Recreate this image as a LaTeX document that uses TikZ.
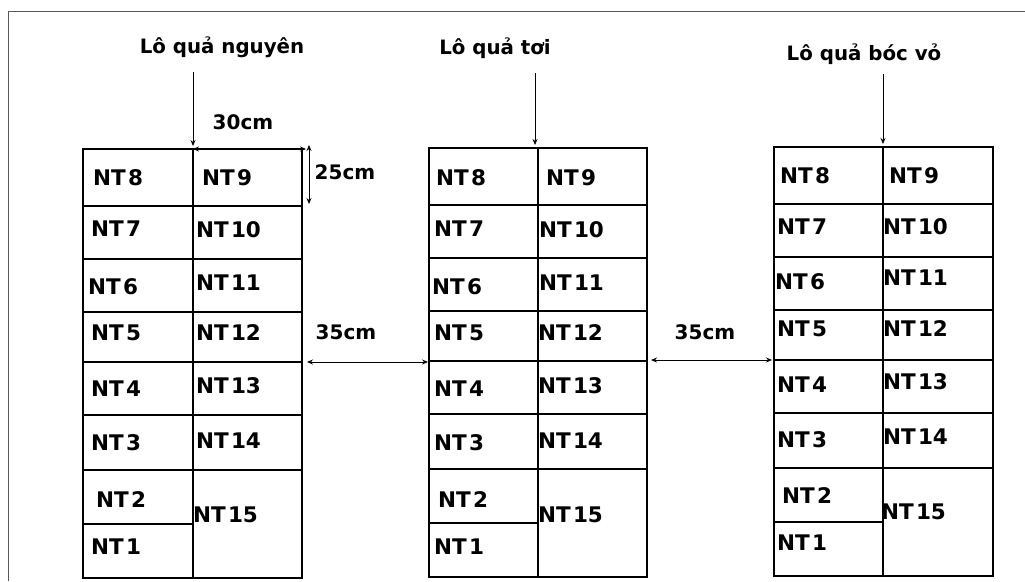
\documentclass[tikz,border=0pt]{standalone}
\usepackage{fontspec}
\setmainfont{DejaVu Sans}
\usetikzlibrary{arrows.meta}
\newcommand\ntlab[1]{NT\kern0.1em#1}
\begin{document}
\begin{tikzpicture}[x=1pt,y=-1pt,
  gridline/.style={line width=1.5pt, line cap=rect},
  lbl/.style={font=\bfseries\fontsize{21.5}{23}\selectfont, anchor=west, inner sep=0pt},
  ttl/.style={font=\bfseries\fontsize{19.8}{21}\selectfont, anchor=base, inner sep=0pt},
  dimlbl/.style={font=\bfseries\fontsize{20}{22}\selectfont, inner sep=0pt},
  arr/.style={line width=0.8pt, -{Stealth[length=6pt,width=5pt]}},
  darr/.style={line width=0.8pt, {Stealth[length=6pt,width=5pt]}-{Stealth[length=6pt,width=5pt]}}]
\useasboundingbox (0,0) rectangle (1025,581);
\draw[gray!70!black, line width=1pt] (8,581) -- (8,11) -- (1025,11);

% grids
\foreach \L/\M/\R/\d in {83/193/302/0, 429/538/647/-1, 774/883/993/-2}{
  \draw[gridline] ({\L},{149+\d}) rectangle ({\R},{578+\d});
  \draw[gridline] ({\M},{149+\d}) -- ({\M},{578+\d});
  \foreach \yy in {206,259,312,362,415,470}
    \draw[gridline] ({\L},{\yy+\d}) -- ({\R},{\yy+\d});
  \draw[gridline] ({\L},{524+\d}) -- ({\M},{524+\d});
}

% titles
\node[ttl] (t1) at (222,53) {Lô quả nguyên};
\node[ttl] (t2) at (495,54) {Lô quả tơi};
\node[ttl] (t3) at (864,60) {Lô quả bóc vỏ};
\coordinate (a1s) at (193,72);  \coordinate (a1e) at (193,146);
\coordinate (a2s) at (535,73);  \coordinate (a2e) at (535,145);
\coordinate (a3s) at (883,74);  \coordinate (a3e) at (883,144);
\draw[arr] (a1s) -- (a1e);
\draw[arr] (a2s) -- (a2e);
\draw[arr] (a3s) -- (a3e);

% dimensions
\coordinate (d30a) at (193,149); \coordinate (d30b) at (306,149);
\draw[darr] (d30a) -- (d30b);
\node[dimlbl] (l30) at (243,122) {30cm};
\coordinate (d25a) at (309,145); \coordinate (d25b) at (309,204);
\draw[darr] (d25a) -- (d25b);
\node[dimlbl] (l25) at (345,172) {25cm};
\coordinate (d35a) at (307,362); \coordinate (d35b) at (428,362);
\draw[darr] (d35a) -- (d35b);
\node[dimlbl] (l35a) at (346,332) {35cm};
\coordinate (d35c) at (651,360); \coordinate (d35d) at (772,360);
\draw[darr] (d35c) -- (d35d);
\node[dimlbl] (l35b) at (705,332) {35cm};

% grid 1 labels
\node[lbl] (a8) at (93,178) {\ntlab{8}};
\node[lbl] (a9) at (202,178) {\ntlab{9}};
\node[lbl] (a7) at (91,229) {\ntlab{7}};
\node[lbl] (a10) at (196,230) {\ntlab{10}};
\node[lbl] (a6) at (88,287) {\ntlab{6}};
\node[lbl] (a11) at (196,283) {\ntlab{11}};
\node[lbl] (a5) at (91,333) {\ntlab{5}};
\node[lbl] (a12) at (196,333) {\ntlab{12}};
\node[lbl] (a4) at (91,389) {\ntlab{4}};
\node[lbl] (a13) at (196,386) {\ntlab{13}};
\node[lbl] (a3) at (91,443) {\ntlab{3}};
\node[lbl] (a14) at (196,441) {\ntlab{14}};
\node[lbl] (a2) at (96,500) {\ntlab{2}};
\node[lbl] (a1) at (91,547) {\ntlab{1}};
\node[lbl] (a15) at (193,515) {\ntlab{15}};

% grid 2 labels
\node[lbl] (b8) at (436,178) {\ntlab{8}};
\node[lbl] (b9) at (546,178) {\ntlab{9}};
\node[lbl] (b7) at (434,229) {\ntlab{7}};
\node[lbl] (b10) at (539,230) {\ntlab{10}};
\node[lbl] (b6) at (432,287) {\ntlab{6}};
\node[lbl] (b11) at (539,283) {\ntlab{11}};
\node[lbl] (b5) at (434,333) {\ntlab{5}};
\node[lbl] (b12) at (538,333) {\ntlab{12}};
\node[lbl] (b4) at (434,389) {\ntlab{4}};
\node[lbl] (b13) at (538,386) {\ntlab{13}};
\node[lbl] (b3) at (434,443) {\ntlab{3}};
\node[lbl] (b14) at (538,441) {\ntlab{14}};
\node[lbl] (b2) at (438,500) {\ntlab{2}};
\node[lbl] (b1) at (434,547) {\ntlab{1}};
\node[lbl] (b15) at (538,515) {\ntlab{15}};

% grid 3 labels
\node[lbl] (c8) at (780,176) {\ntlab{8}};
\node[lbl] (c9) at (889,176) {\ntlab{9}};
\node[lbl] (c7) at (777,227) {\ntlab{7}};
\node[lbl] (c10) at (883,227) {\ntlab{10}};
\node[lbl] (c6) at (775,282) {\ntlab{6}};
\node[lbl] (c11) at (883,278) {\ntlab{11}};
\node[lbl] (c5) at (777,329) {\ntlab{5}};
\node[lbl] (c12) at (883,329) {\ntlab{12}};
\node[lbl] (c4) at (777,385) {\ntlab{4}};
\node[lbl] (c13) at (883,382) {\ntlab{13}};
\node[lbl] (c3) at (777,440) {\ntlab{3}};
\node[lbl] (c14) at (883,437) {\ntlab{14}};
\node[lbl] (c2) at (782,496) {\ntlab{2}};
\node[lbl] (c1) at (777,543) {\ntlab{1}};
\node[lbl] (c15) at (881,512) {\ntlab{15}};
\end{tikzpicture}
\end{document}
